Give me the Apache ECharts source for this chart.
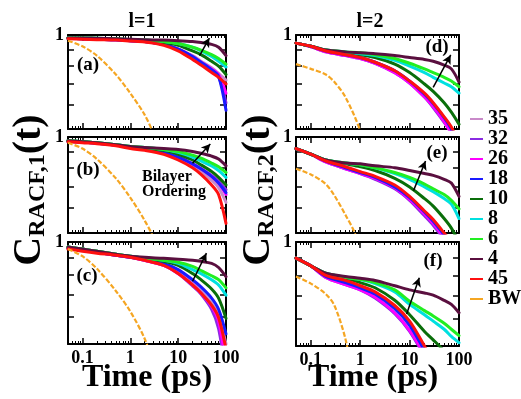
<!DOCTYPE html>
<html><head><meta charset="utf-8">
<script src="https://cdn.jsdelivr.net/npm/echarts@6/dist/echarts.min.js"></script>
<style>html,body{margin:0;padding:0;background:#fff}#c{width:521px;height:399px}</style>
</head><body><div id="c"></div>
<script>
// time grid (ps)
const T = [0.05,0.1,0.2,0.5,1,2,5,10,20,30,50,70,100];
const T_BW_L1 = [0.05,0.1,0.2,0.5,1,2,3,5];
const T_BW_D = [0.05,0.1,0.2,0.3,0.5,1,2];
const T_BW_E = [0.05,0.1,0.2,0.3,0.5,0.8,1.5];
const T_BW_F = [0.05,0.1,0.2,0.3,0.5,0.7,1];
const NAMES = ['35','32','26','18','10','8','6','4','45','BW'];
const X_MAJOR = [0.1,1,10,100];
const X_MINOR = [0.05,0.06,0.07,0.08,0.09,0.2,0.3,0.4,0.5,0.6,0.7,0.8,0.9,2,3,4,5,6,7,8,9,20,30,40,50,60,70,80,90];
const Y_TICKS = [0.6,0.7,0.8,0.9];
const Y_LABELS = [1];

// panel (a) l=1
const A35=[.976,.973,.969,.966,.959,.953,.933,.901,.859,.824,.785,.753,.717];
const A32=[.976,.973,.969,.966,.959,.953,.933,.901,.853,.818,.774,.737,.607];
const A26=[.976,.973,.969,.966,.959,.953,.933,.901,.853,.818,.779,.747,.651];
const A18=[.976,.973,.969,.966,.959,.953,.933,.901,.853,.818,.774,.737,.574];
const A10=[.979,.976,.973,.969,.966,.959,.946,.927,.889,.865,.824,.795,.747];
const A8=[.979,.979,.976,.973,.966,.963,.953,.939,.914,.889,.853,.824,.790];
const A6=[.979,.979,.976,.973,.966,.963,.953,.939,.914,.895,.865,.841,.807];
const A4=[.979,.979,.976,.973,.969,.966,.963,.959,.953,.946,.933,.914,.859];
const A45=[.973,.969,.966,.963,.956,.949,.927,.889,.835,.801,.758,.732,.697];
const ABW=[.959,.920,.859,.747,.651,.555,.483,.354];
// panel (b)
const B35=[.969,.963,.956,.943,.927,.914,.895,.859,.812,.779,.732,.693,.624];
const B32=[.969,.963,.956,.943,.927,.914,.895,.865,.824,.795,.758,.727,.683];
const B26=[.969,.963,.956,.943,.927,.914,.895,.865,.824,.795,.753,.717,.660];
const B18=[.969,.963,.956,.943,.927,.914,.895,.865,.824,.795,.753,.717,.669];
const B10=[.973,.966,.959,.946,.933,.920,.908,.883,.847,.818,.779,.747,.707];
const B8=[.973,.966,.959,.946,.933,.927,.914,.895,.865,.841,.812,.785,.747];
const B6=[.973,.966,.959,.946,.933,.927,.914,.901,.877,.859,.829,.807,.774];
const B4=[.973,.966,.959,.946,.933,.927,.920,.914,.901,.889,.871,.853,.812];
const B45=[.966,.959,.953,.939,.920,.908,.883,.847,.801,.763,.707,.660,.536];
const BBW=[.959,.920,.853,.742,.646,.547,.483,.354];
// panel (c)
const C35=[.959,.946,.933,.914,.901,.883,.859,.818,.758,.717,.660,.607,.500];
const C32=[.959,.946,.933,.914,.901,.883,.853,.807,.742,.702,.633,.555,.406];
const C26=[.959,.946,.933,.914,.901,.883,.853,.807,.747,.707,.646,.582,.435];
const C18=[.959,.946,.933,.914,.901,.889,.865,.829,.774,.737,.683,.633,.536];
const C10=[.966,.953,.939,.920,.908,.895,.877,.853,.807,.774,.727,.683,.595];
const C8=[.966,.953,.939,.920,.908,.895,.883,.865,.829,.807,.774,.747,.697];
const C6=[.966,.953,.939,.920,.908,.895,.883,.871,.847,.824,.795,.774,.732];
const C4=[.966,.953,.939,.920,.908,.901,.895,.889,.883,.877,.865,.841,.790];
const C45=[.953,.939,.927,.914,.901,.883,.853,.807,.747,.707,.651,.599,.483];
const CBW=[.953,.908,.835,.717,.624,.518,.435,.308];
// panel (d) l=2
const D35=[.942,.920,.889,.865,.847,.818,.768,.707,.641,.599,.536,.493,.435];
const D32=[.942,.917,.883,.859,.841,.812,.758,.702,.633,.586,.525,.483,.420];
const D26=[.942,.917,.883,.859,.841,.812,.758,.702,.633,.590,.529,.483,.420];
const D18=[.942,.920,.889,.865,.847,.818,.768,.712,.646,.603,.544,.500,.435];
const D10=[.942,.920,.895,.877,.865,.847,.807,.758,.697,.660,.607,.566,.518];
const D8=[.942,.920,.895,.883,.871,.859,.829,.795,.758,.732,.702,.683,.651];
const D6=[.942,.920,.895,.883,.877,.865,.841,.812,.779,.758,.732,.712,.683];
const D4=[.942,.920,.895,.883,.877,.871,.859,.847,.835,.824,.801,.779,.707];
const D45=[.942,.920,.889,.865,.847,.818,.768,.712,.651,.607,.547,.507,.451];
const DBW=[.807,.779,.747,.707,.633,.493,.330];
// panel (e)
const E35=[.920,.883,.841,.801,.774,.747,.697,.646,.582,.544,.493,.451,.406];
const E32=[.920,.883,.835,.795,.768,.737,.688,.633,.566,.529,.476,.435,.406];
const E26=[.920,.883,.835,.795,.768,.742,.693,.637,.574,.536,.483,.435,.406];
const E18=[.920,.883,.841,.801,.774,.747,.697,.646,.582,.544,.493,.451,.406];
const E10=[.920,.883,.847,.824,.807,.785,.742,.697,.641,.607,.555,.518,.467];
const E8=[.920,.883,.847,.829,.818,.801,.768,.737,.697,.674,.641,.616,.555];
const E6=[.920,.883,.847,.829,.818,.801,.774,.747,.712,.688,.660,.633,.595];
const E4=[.920,.883,.847,.829,.824,.812,.801,.785,.768,.758,.737,.717,.651];
const E45=[.920,.883,.841,.807,.779,.753,.707,.651,.586,.551,.500,.467,.406];
const EBW=[.795,.763,.712,.655,.570,.493,.330];
// panel (f)
const F35=[.898,.853,.795,.763,.737,.707,.646,.578,.493,.448,.398,.366,.342];
const F32=[.898,.853,.790,.753,.727,.688,.620,.551,.467,.420,.379,.354,.330];
const F26=[.898,.853,.790,.753,.727,.693,.624,.555,.473,.429,.379,.354,.330];
const F18=[.898,.853,.795,.763,.737,.707,.641,.574,.486,.441,.392,.366,.342];
const F10=[.898,.853,.807,.785,.763,.737,.678,.616,.551,.521,.483,.451,.406];
const F8=[.898,.853,.812,.790,.779,.758,.717,.660,.616,.590,.559,.533,.511];
const F6=[.898,.853,.812,.790,.779,.763,.727,.674,.633,.611,.582,.559,.536];
const F4=[.898,.853,.812,.795,.785,.774,.747,.727,.712,.702,.678,.660,.624];
const F45=[.898,.853,.801,.774,.747,.717,.655,.590,.500,.451,.406,.379,.354];
const FBW=[.795,.758,.707,.655,.525,.406,.287];

// arrow annotations [t1, C1, t2, C2] (tail -> head) in data units
const ARR_A=[28,0.859,45,0.978];
const ARR_B=[20,0.827,47,0.951];
const ARR_C=[20,0.766,39,0.927];
const ARR_D=[30,0.680,68,0.863];
const ARR_E=[12,0.679,21,0.841];
const ARR_F=[8.7,0.619,15.7,0.788];

const COLORS={'35':'#c98ac9','32':'#8a2be2','26':'#ff00ff','18':'#1a1aff','10':'#0a6e0a','8':'#00e0e0','6':'#22ee22','4':'#5a0f3f','45':'#ff1010','BW':'#f5a623'};
const FONT='Liberation Serif';

const panels=[
 {g:{left:68,top:35,width:158,height:94}, d:{'35':A35,'32':A32,'26':A26,'18':A18,'10':A10,'8':A8,'6':A6,'4':A4,'45':A45}, bw:ABW, tbw:T_BW_L1, arr:ARR_A, bottom:false},
 {g:{left:68,top:137,width:158,height:96}, d:{'35':B35,'32':B32,'26':B26,'18':B18,'10':B10,'8':B8,'6':B6,'4':B4,'45':B45}, bw:BBW, tbw:T_BW_L1, arr:ARR_B, bottom:false},
 {g:{left:68,top:242,width:158,height:102}, d:{'35':C35,'32':C32,'26':C26,'18':C18,'10':C10,'8':C8,'6':C6,'4':C4,'45':C45}, bw:CBW, tbw:T_BW_L1, arr:ARR_C, bottom:true},
 {g:{left:296,top:35,width:163,height:94}, d:{'35':D35,'32':D32,'26':D26,'18':D18,'10':D10,'8':D8,'6':D6,'4':D4,'45':D45}, bw:DBW, tbw:T_BW_D, arr:ARR_D, bottom:false},
 {g:{left:296,top:137,width:163,height:96}, d:{'35':E35,'32':E32,'26':E26,'18':E18,'10':E10,'8':E8,'6':E6,'4':E4,'45':E45}, bw:EBW, tbw:T_BW_E, arr:ARR_E, bottom:false},
 {g:{left:296,top:242,width:163,height:104}, d:{'35':F35,'32':F32,'26':F26,'18':F18,'10':F10,'8':F8,'6':F6,'4':F4,'45':F45}, bw:FBW, tbw:T_BW_F, arr:ARR_F, bottom:true}
];

const grid=[], xAxis=[], yAxis=[], series=[];
const axLine={show:true,lineStyle:{color:'#000',width:2}};
panels.forEach((p,i)=>{
  grid.push(Object.assign({outerBoundsMode:'none',containLabel:false},p.g));
  const xb={type:'log',gridIndex:i,min:0.05,max:100,splitLine:{show:false},minorTick:{show:false},minorSplitLine:{show:false}};
  xAxis.push(Object.assign({},xb,{position:'bottom',axisLine:axLine,
    axisTick:{show:true,inside:true,length:6,lineStyle:{color:'#000',width:1.5},customValues:X_MAJOR},
    axisLabel:{show:p.bottom,customValues:X_MAJOR,formatter:v=>String(v),margin:5,color:'#000',fontFamily:FONT,fontWeight:'bold',fontSize:18}}));
  xAxis.push(Object.assign({},xb,{position:'bottom',axisLine:{show:false},
    axisTick:{show:true,inside:true,length:3,lineStyle:{color:'#000',width:1},customValues:X_MINOR},axisLabel:{show:false}}));
  xAxis.push(Object.assign({},xb,{position:'top',axisLine:axLine,
    axisTick:{show:true,inside:true,length:6,lineStyle:{color:'#000',width:1.5},customValues:X_MAJOR},axisLabel:{show:false}}));
  xAxis.push(Object.assign({},xb,{position:'top',axisLine:{show:false},
    axisTick:{show:true,inside:true,length:3,lineStyle:{color:'#000',width:1},customValues:X_MINOR},axisLabel:{show:false}}));
  const yb={type:'log',logBase:10,gridIndex:i,min:0.5,max:1,splitLine:{show:false},minorTick:{show:false}};
  yAxis.push(Object.assign({},yb,{position:'left',axisLine:axLine,
    axisTick:{show:true,inside:true,length:6,lineStyle:{color:'#000',width:1.5},customValues:Y_TICKS},
    axisLabel:{show:true,customValues:Y_LABELS,formatter:()=> '1',margin:4,color:'#000',fontFamily:FONT,fontWeight:'bold',fontSize:18}}));
  yAxis.push(Object.assign({},yb,{position:'right',axisLine:axLine,
    axisTick:{show:true,inside:true,length:6,lineStyle:{color:'#000',width:1.5},customValues:Y_TICKS},axisLabel:{show:false}}));
  ['35','32','26','18','10','8','6','4','45'].forEach(n=>{
    series.push({name:n,type:'line',xAxisIndex:i*4,yAxisIndex:i*2,data:T.map((t,k)=>[t,p.d[n][k]]),
      showSymbol:false,smooth:0.3,clip:true,lineStyle:{color:COLORS[n],width:3,join:'round',cap:'round'},itemStyle:{color:COLORS[n]}});
  });
  series.push({name:'BW',type:'line',xAxisIndex:i*4,yAxisIndex:i*2,data:p.tbw.map((t,k)=>[t,p.bw[k]]),
    showSymbol:false,smooth:0.3,clip:true,lineStyle:{color:COLORS.BW,width:2.2,type:[5,2]},itemStyle:{color:COLORS.BW},
    markLine:{silent:true,symbol:['none','arrow'],symbolSize:[7,9],animation:false,label:{show:false},
      lineStyle:{color:'#000',width:1.5,type:'solid'},
      data:[[{coord:[p.arr[0],p.arr[1]]},{coord:[p.arr[2],p.arr[3]]}]]}});
});

const txt=(x,y,text,size,extra)=>Object.assign({type:'text',x:x,y:y,silent:true,style:{text:text,fill:'#000',fontFamily:FONT,fontWeight:'bold',fontSize:size,align:'center',verticalAlign:'middle'}},extra||{});
const ytitle=(x,sub)=>({type:'text',x:x,y:190,rotation:Math.PI/2,silent:true,style:{
  text:'{m|C}{s|'+sub+'}{m|(t)}',align:'center',verticalAlign:'middle',fill:'#000',
  rich:{m:{fontFamily:FONT,fontWeight:'bold',fontSize:40,lineHeight:44,verticalAlign:'bottom',fill:'#000'},
        s:{fontFamily:FONT,fontWeight:'bold',fontSize:24,lineHeight:24,verticalAlign:'bottom',fill:'#000'}}}});

const graphic=[
  txt(142,22,'l=1',20), txt(370,22,'l=2',20),
  txt(88,65,'(a)',19), txt(88,170,'(b)',19), txt(87,276,'(c)',19),
  txt(437,47,'(d)',19), txt(437,153,'(e)',19), txt(433,261,'(f)',19),
  {type:'text',x:142,y:177,silent:true,style:{text:'Bilayer',fill:'#000',fontFamily:FONT,fontWeight:'bold',fontSize:16,align:'left',verticalAlign:'middle'}},
  {type:'text',x:142,y:192,silent:true,style:{text:'Ordering',fill:'#000',fontFamily:FONT,fontWeight:'bold',fontSize:16,align:'left',verticalAlign:'middle'}},
  txt(147,378,'Time (ps)',32), txt(373,378,'Time (ps)',32),
  ytitle(28,'RACF,1'), ytitle(257,'RACF,2')
];

const chart=echarts.init(document.getElementById('c'),null,{renderer:'canvas'});
chart.setOption({
  animation:false,backgroundColor:'#fff',
  grid:grid,xAxis:xAxis,yAxis:yAxis,series:series,graphic:graphic,
  legend:{data:NAMES,orient:'vertical',left:465,top:104,itemGap:0,itemWidth:13,itemHeight:2,icon:'rect',selectedMode:false,
    textStyle:{color:'#000',fontFamily:FONT,fontWeight:'bold',fontSize:20,lineHeight:19}}
});
</script></body></html>
